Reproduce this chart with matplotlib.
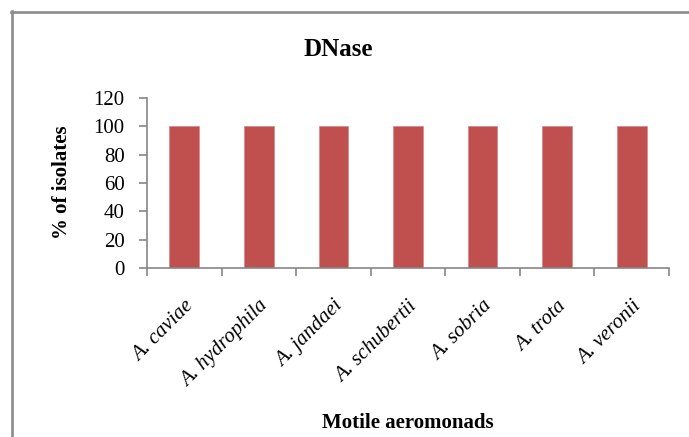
import matplotlib
matplotlib.use('Agg')
import matplotlib.pyplot as plt
from matplotlib.lines import Line2D

# species and % of isolates positive for DNase
species = ['A. caviae', 'A. hydrophila', 'A. jandaei', 'A. schubertii',
           'A. sobria', 'A. trota', 'A. veronii']
percent = [100, 100, 100, 100, 100, 100, 100]
yticks = [0, 20, 40, 60, 80, 100, 120]

W, H = 689, 437
plt.rcParams['font.family'] = ['Liberation Serif', 'DejaVu Serif']

fig = plt.figure(figsize=(W / 100, H / 100), dpi=100)

# chart frame (only top and left edges visible)
frame_col = '#8c8c8c'
fig.add_artist(Line2D([10.5 / W, 1.0], [1 - 11.5 / H, 1 - 11.5 / H],
                      color=frame_col, lw=1.9, transform=fig.transFigure))
fig.add_artist(Line2D([11.5 / W, 11.5 / W], [0.0, 1 - 10.5 / H],
                      color=frame_col, lw=1.9, transform=fig.transFigure))

ax = fig.add_axes([147 / W, (H - 268) / H, (669 - 147) / W, 170 / H])
x = range(len(species))
ax.bar(x, percent, width=0.4, color='#C0504D', edgecolor='#D58E8C', linewidth=0.6)

ax.set_xlim(-0.5, len(species) - 0.5)
ax.set_ylim(0, 120)
ax.set_yticks(yticks)
ax.set_yticklabels([str(v) for v in yticks], fontsize=15)

ax.set_xticks(list(x))
ax.set_xticklabels(species, fontsize=15, style='italic', rotation=45,
                   ha='right', va='top', rotation_mode='anchor')
ax.tick_params(axis='x', which='major', length=0, pad=21)
ax.set_xticks([i - 0.5 for i in range(len(species) + 1)], minor=True)
ax.tick_params(axis='x', which='minor', length=6, width=1.2, color='#868686')
ax.tick_params(axis='y', length=6, width=1.2, color='#868686', pad=10)

for s in ['top', 'right']:
    ax.spines[s].set_visible(False)
for s in ['left', 'bottom']:
    ax.spines[s].set_color('#868686')
    ax.spines[s].set_linewidth(1.2)

fig.text(338 / W, 1 - 49 / H, 'DNase', fontsize=18, fontweight='bold',
         ha='center', va='center')
fig.text(62 / W, 1 - 182 / H, '% of isolates', fontsize=15, fontweight='bold',
         rotation=90, ha='center', va='center')
fig.text(408 / W, 1 - 423 / H, 'Motile aeromonads', fontsize=15,
         fontweight='bold', ha='center', va='center')

fig.savefig('out.png', dpi=100)
